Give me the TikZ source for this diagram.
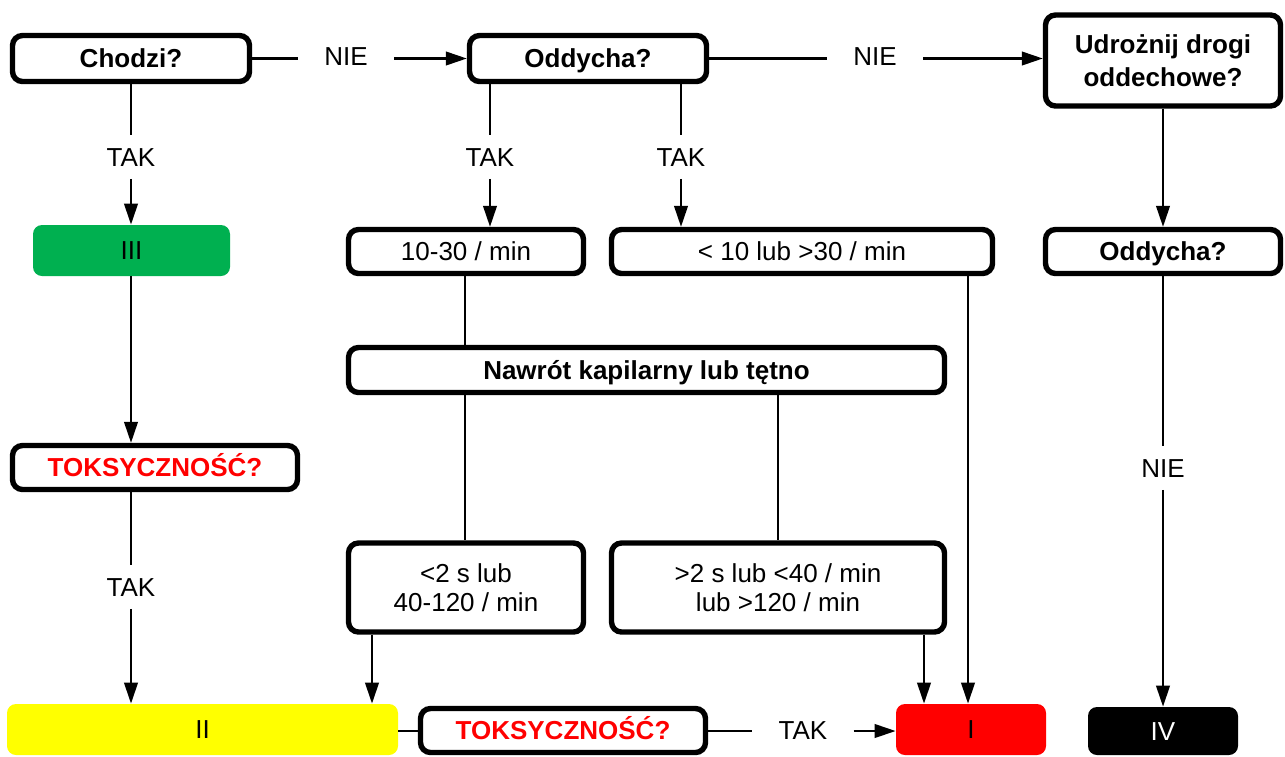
\documentclass[tikz,border=0pt]{standalone}
\usepackage{fontspec}
\setmainfont{Liberation Sans}
\usetikzlibrary{arrows.meta,calc}
\definecolor{tgreen}{RGB}{0,176,80}
\definecolor{tyellow}{RGB}{255,255,0}
\definecolor{tred}{RGB}{255,0,0}
\begin{document}
\begin{tikzpicture}[x=0.5pt,y=-0.5pt,
  font=\fontsize{13}{15}\selectfont,
  box/.style={draw=black,line width=2.7pt,rounded corners=5pt,fill=white,inner sep=0pt,align=center},
  oneline/.style={text height=9.3pt,text depth=0pt},
  bf/.style={font=\fontsize{13}{15}\selectfont\bfseries},
  flat/.style={rounded corners=4.5pt,inner sep=0pt,align=center},
  conn/.style={line width=1.1pt,black},
  arr/.style={conn,-{Triangle[length=10.5pt,width=6.8pt]}},
  hlab/.style={inner xsep=13pt,inner ysep=2pt},
  vlab/.style={inner xsep=2pt,inner ysep=6pt,text height=9.5pt,text depth=0pt},
  redt/.style={text=tred}]
\useasboundingbox (0,0) rectangle (1285,756);
\clip (0,0) rectangle (1285,756);

% boxes
\node[box,oneline,bf,minimum width=118.5pt,minimum height=23pt] (chodzi) at (131,58.5) {Chodzi?};
\node[box,oneline,bf,minimum width=118.5pt,minimum height=23pt] (odd1) at (588,58.5) {Oddycha?};
\node[box,minimum width=117.5pt,minimum height=45.5pt,font=\fontsize{13}{16.5}\selectfont\bfseries] (udr) at (1163,60.5) {Udrożnij drogi\\oddechowe?};

\node[flat,oneline,fill=tgreen,minimum width=98.5pt,minimum height=25.5pt] (iii) at (131.5,250.5) {III};
\node[box,oneline,minimum width=117.5pt,minimum height=22pt] (r1030) at (466,251.5) {10-30 / min};
\node[box,oneline,minimum width=190.5pt,minimum height=22pt] (r10) at (802,251.5) {< 10 lub >30 / min};
\node[box,oneline,bf,minimum width=117.5pt,minimum height=22pt] (odd2) at (1163,251.5) {Oddycha?};

\node[box,oneline,bf,minimum width=298pt,minimum height=22.5pt] (naw) at (646.5,370) {Nawrót kapilarny lub tętno};

\node[box,oneline,bf,redt,minimum width=142.5pt,minimum height=22pt] (toks1) at (155,467.5) {TOKSYCZNOŚĆ?};

\node[box,minimum width=117.5pt,minimum height=44.5pt,font=\fontsize{13}{14.5}\selectfont] (lt2) at (466,587.5) {<2 s lub\\40-120 / min};
\node[box,minimum width=166.5pt,minimum height=44.5pt,font=\fontsize{13}{14.5}\selectfont] (gt2) at (778,587.5) {>2 s lub <40 / min\\lub >120 / min};

% bottom row
\node[flat,oneline,fill=tyellow,minimum width=195.5pt,minimum height=25.5pt] (ii) at (202.5,729.5) {II};
\node[box,oneline,bf,redt,minimum width=142.5pt,minimum height=22pt] (toks2) at (563,730.5) {TOKSYCZNOŚĆ?};
\node[flat,oneline,fill=tred,minimum width=75pt,minimum height=25.5pt] (I) at (971,729.5) {I};
\node[flat,oneline,fill=black,text=white,minimum width=75pt,minimum height=24pt] (IV) at (1163,731) {IV};

% labels
\node[hlab] (nie1) at (346,57) {NIE};
\node[hlab] (nie2) at (875,57) {NIE};
\node[vlab] (tak1) at (131,157) {TAK};
\node[vlab] (tak2) at (490,157) {TAK};
\node[vlab] (tak3) at (681,157) {TAK};
\node[vlab] (tak4) at (131,587) {TAK};
\node[hlab] (tak5) at (803,731) {TAK};
\node[vlab] (nie3) at (1163,468) {NIE};

% connectors
\draw[conn] (chodzi.east) -- (nie1.west |- chodzi.east);
\draw[arr] (nie1.east |- odd1.west) -- (odd1.west);
\draw[conn] (odd1.east) -- (nie2.west |- odd1.east);
\draw[arr] (nie2.east |- odd1.east) -- (udr.west |- odd1.east);

\draw[conn] (chodzi.south -| tak1) -- (tak1.north);
\draw[arr] (tak1.south) -- (tak1 |- iii.north);
\draw[conn] (tak2 |- odd1.south) -- (tak2.north);
\draw[arr] (tak2.south) -- (tak2 |- r1030.north);
\draw[conn] (tak3 |- odd1.south) -- (tak3.north);
\draw[arr] (tak3.south) -- (tak3 |- r10.north);

\draw[arr] (udr.south) -- (odd2.north);
\draw[conn] (odd2.south) -- (nie3.north);
\draw[arr] (nie3.south) -- (IV.north);

\draw[conn] ([xshift=-0.5pt]r1030.south) -- ([xshift=-0.5pt]r1030.south |- naw.north);
\draw[conn] ([xshift=-0.5pt]lt2.north |- naw.south) -- ([xshift=-0.5pt]lt2.north);
\draw[conn] (gt2.north |- naw.south) -- (gt2.north);

\draw[arr] (tak1 |- iii.south) -- (tak1 |- toks1.north);
\draw[conn] (tak4 |- toks1.south) -- (tak4.north);
\draw[arr] (tak4.south) -- (tak4 |- ii.north);

\draw[arr] ([xshift=-47pt]lt2.south) -- ([xshift=-47pt]lt2.south |- ii.north);
\draw[arr] ([xshift=-23.5pt]I.north |- gt2.south) -- ([xshift=-23.5pt]I.north);
\draw[arr] ([xshift=-1.5pt]I.north |- r10.south) -- ([xshift=-1.5pt]I.north);

\draw[conn] (ii.east |- tak5) -- (toks2.west |- tak5);
\draw[conn] (toks2.east |- tak5) -- (tak5.west);
\draw[arr] (tak5.east) -- (I.west |- tak5);
\end{tikzpicture}
\end{document}
